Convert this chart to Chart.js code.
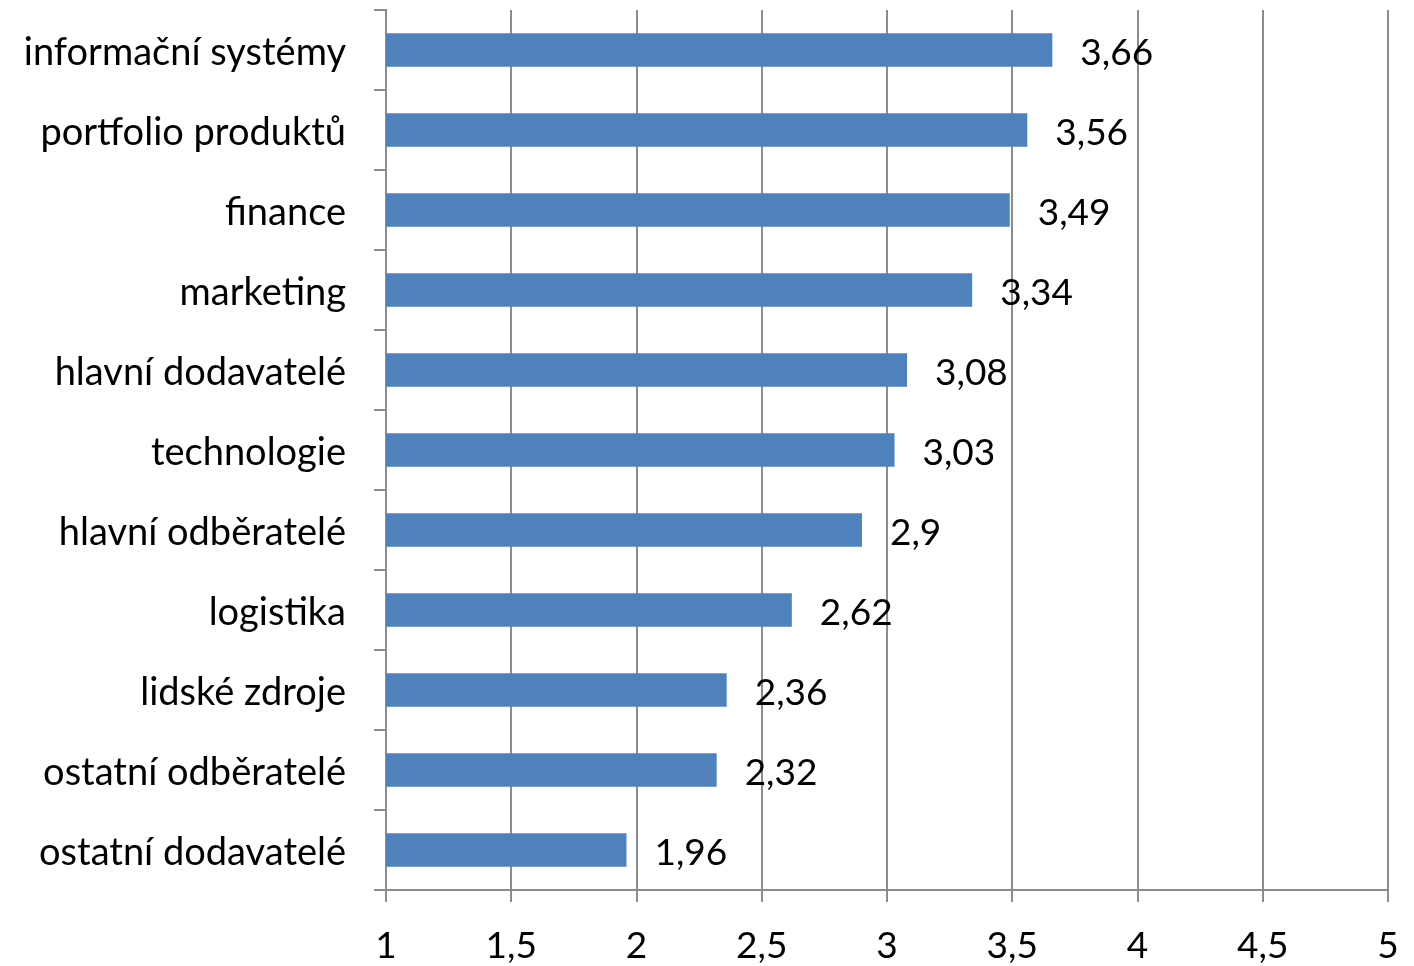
<!DOCTYPE html>
<html lang="cs">
<head>
<meta charset="UTF-8">
<script src="https://cdn.jsdelivr.net/npm/chart.js"></script>
<title>Hodnocení oblastí</title>
<style>
  * { margin: 0; padding: 0; box-sizing: border-box; }
  body { background: #fff; }
  .chartBox { width: 1414px; height: 966px; }
</style>
</head>
<body>
<div class="chartBox">
  <canvas id="myChart"></canvas>
</div>
<script>
// setup block
const categories = ['informační systémy', 'portfolio produktů', 'finance', 'marketing',
  'hlavní dodavatelé', 'technologie', 'hlavní odběratelé', 'logistika',
  'lidské zdroje', 'ostatní odběratelé', 'ostatní dodavatelé'];
const values = [3.66, 3.56, 3.49, 3.34, 3.08, 3.03, 2.9, 2.62, 2.36, 2.32, 1.96];
const xTicks = [1, 1.5, 2, 2.5, 3, 3.5, 4, 4.5, 5];

const fontFamily = 'Lato, sans-serif';
const gridColor = '#8c8c8c';
const comma = v => String(v).replace('.', ',');

// plugin block - value labels to the right of each bar
const barLabels = {
  id: 'barLabels',
  afterDatasetsDraw(chart) {
    const { ctx } = chart;
    const meta = chart.getDatasetMeta(0);
    ctx.save();
    ctx.font = '37px ' + fontFamily;
    ctx.fillStyle = '#000';
    ctx.textAlign = 'left';
    ctx.textBaseline = 'middle';
    meta.data.forEach((bar, i) => {
      ctx.fillText(comma(values[i]), bar.x + 28, bar.y + 3);
    });
    ctx.restore();
  }
};

// config block
const config = {
  type: 'bar',
  data: {
    labels: categories,
    datasets: [{
      data: values,
      backgroundColor: '#4f81bd',
      borderWidth: 0,
      barPercentage: 0.42,
      categoryPercentage: 1
    }]
  },
  options: {
    indexAxis: 'y',
    responsive: true,
    maintainAspectRatio: false,
    animation: false,
    layout: { padding: { top: 10, right: 26, left: 0, bottom: 0 } },
    plugins: {
      legend: { display: false },
      tooltip: { enabled: false }
    },
    scales: {
      x: {
        min: 1,
        max: 5,
        afterBuildTicks: scale => { scale.ticks = xTicks.map(v => ({ value: v })); },
        afterFit: scale => { scale.height = 76; scale.paddingLeft = 0; scale.paddingRight = 0; },
        grid: { color: gridColor, lineWidth: 2, tickLength: 12 },
        border: { color: gridColor, width: 2 },
        ticks: {
          color: '#000',
          padding: 22,
          font: { family: fontFamily, size: 37 },
          callback: v => comma(v)
        }
      },
      y: {
        afterFit: scale => { scale.width = 386; scale.paddingTop = 0; scale.paddingBottom = 0; },
        grid: { drawOnChartArea: false, color: gridColor, lineWidth: 2, tickLength: 12, offset: true },
        border: { color: gridColor, width: 2 },
        ticks: {
          color: '#000',
          padding: 28,
          labelOffset: 3,
          font: { family: fontFamily, size: 38 }
        }
      }
    }
  },
  plugins: [barLabels]
};

// render block
new Chart(document.getElementById('myChart'), config);
</script>
</body>
</html>
